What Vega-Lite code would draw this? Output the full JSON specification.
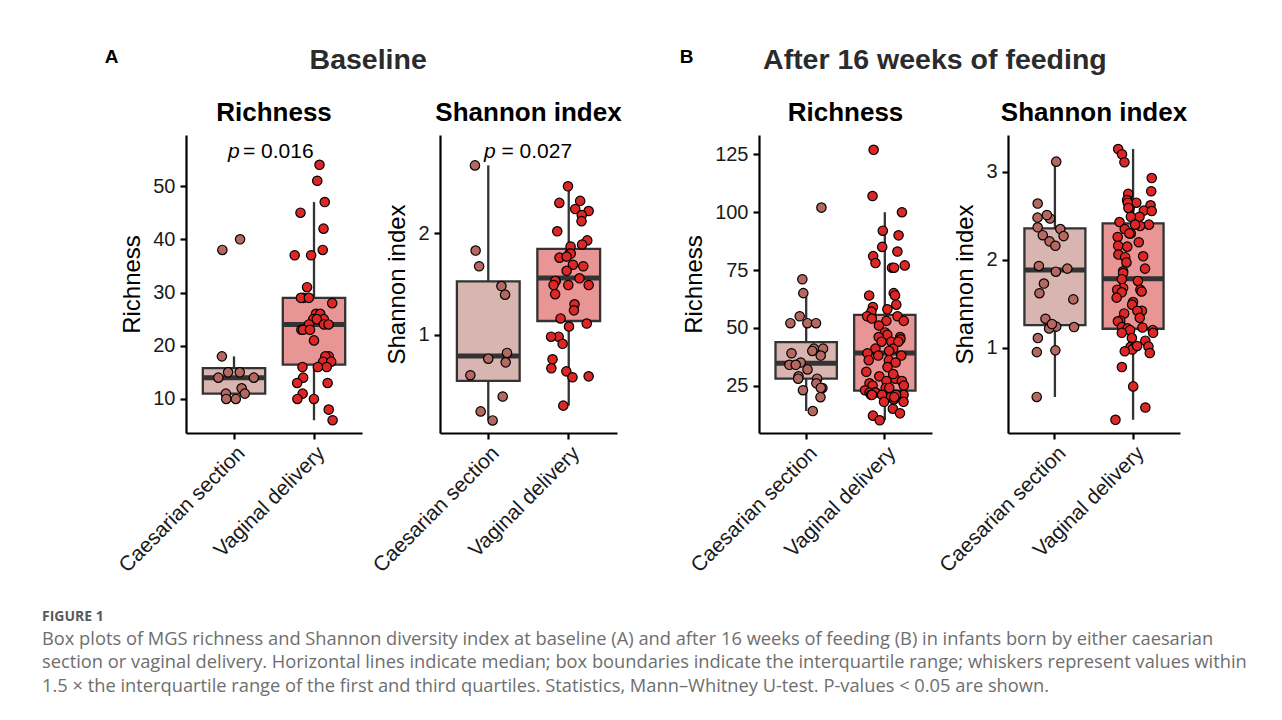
{
"$schema":"https://vega.github.io/schema/vega-lite/v6.json",
"autosize":{"type":"pad"},
"padding":{"left":42,"top":45,"right":0,"bottom":0},
"background":"white",
"spacing":57,
"title":{"text":"FIGURE 1","subtitle":["Box plots of MGS richness and Shannon diversity index at baseline (A) and after 16 weeks of feeding (B) in infants born by either caesarian","section or vaginal delivery. Horizontal lines indicate median; box boundaries indicate the interquartile range; whiskers represent values within","1.5 × the interquartile range of the first and third quartiles. Statistics, Mann–Whitney U-test. P-values < 0.05 are shown."],"orient":"bottom","anchor":"start","frame":"group","dx":-144,"offset":34,"font":"Open Sans","fontSize":14,"fontWeight":"bold","color":"#5a5a5a","subtitleFont":"Open Sans","subtitleFontSize":18.3,"subtitleColor":"#6e6e6e","subtitleLineHeight":23.5,"subtitlePadding":7},
"config":{"font":"Liberation Sans","view":{"stroke":null},
 "axis":{"domainColor":"#000000","domainWidth":2.2,"tickColor":"#000000","tickWidth":2.2,"tickSize":6,"labelFontSize":20,"labelColor":"#1a1a1a","labelFont":"Liberation Sans","titleFont":"Liberation Sans","titleFontSize":24,"titleFontWeight":"normal","titleColor":"#000000","grid":false,"labelPadding":5,"titlePadding":8},
 "axisY":{"format":"d"},
 "axisX":{"labelAngle":-45,"labelAlign":"right","labelBaseline":"top","labelPadding":3,"labelOverlap":false,"labelFontSize":21}},
"datasets":{
"stats":[
{"p":"A1","g":"Caesarian section","lo":10,"q1":11,"med":14,"q3":15.8,"hi":18},
{"p":"A1","g":"Vaginal delivery","lo":6,"q1":16.45,"med":24,"q3":29,"hi":47},
{"p":"A2","g":"Caesarian section","lo":0.154,"q1":0.545,"med":0.79,"q3":1.526,"hi":2.67},
{"p":"A2","g":"Vaginal delivery","lo":0.3,"q1":1.135,"med":1.56,"q3":1.846,"hi":2.464},
{"p":"B1","g":"Caesarian section","lo":14,"q1":28,"med":34.7,"q3":43.8,"hi":65},
{"p":"B1","g":"Vaginal delivery","lo":10,"q1":22.8,"med":39.1,"q3":55.6,"hi":100},
{"p":"B2","g":"Caesarian section","lo":0.44,"q1":1.258,"med":1.884,"q3":2.358,"hi":3.117},
{"p":"B2","g":"Vaginal delivery","lo":0.18,"q1":1.216,"med":1.785,"q3":2.415,"hi":3.26}],
"pv":[{"p":"A1","label":"= 0.016","y":55.3},{"p":"A2","label":"= 0.027","y":2.74}],
"pts":[
{"p":"A1","g":"Caesarian section","v":40},{"p":"A1","g":"Caesarian section","v":38},{"p":"A1","g":"Caesarian section","v":18},{"p":"A1","g":"Caesarian section","v":15},{"p":"A1","g":"Caesarian section","v":15},{"p":"A1","g":"Caesarian section","v":14},{"p":"A1","g":"Caesarian section","v":14},{"p":"A1","g":"Caesarian section","v":12},{"p":"A1","g":"Caesarian section","v":11},{"p":"A1","g":"Caesarian section","v":11},{"p":"A1","g":"Caesarian section","v":10},{"p":"A1","g":"Caesarian section","v":10},
{"p":"A1","g":"Vaginal delivery","v":54},{"p":"A1","g":"Vaginal delivery","v":51},{"p":"A1","g":"Vaginal delivery","v":47},{"p":"A1","g":"Vaginal delivery","v":45},{"p":"A1","g":"Vaginal delivery","v":42},{"p":"A1","g":"Vaginal delivery","v":38},{"p":"A1","g":"Vaginal delivery","v":37},{"p":"A1","g":"Vaginal delivery","v":37},{"p":"A1","g":"Vaginal delivery","v":31},{"p":"A1","g":"Vaginal delivery","v":29},{"p":"A1","g":"Vaginal delivery","v":29},{"p":"A1","g":"Vaginal delivery","v":29},{"p":"A1","g":"Vaginal delivery","v":28},{"p":"A1","g":"Vaginal delivery","v":26},{"p":"A1","g":"Vaginal delivery","v":26},{"p":"A1","g":"Vaginal delivery","v":25},{"p":"A1","g":"Vaginal delivery","v":25},{"p":"A1","g":"Vaginal delivery","v":25},{"p":"A1","g":"Vaginal delivery","v":24},{"p":"A1","g":"Vaginal delivery","v":24},{"p":"A1","g":"Vaginal delivery","v":24},{"p":"A1","g":"Vaginal delivery","v":23},{"p":"A1","g":"Vaginal delivery","v":23},{"p":"A1","g":"Vaginal delivery","v":23},{"p":"A1","g":"Vaginal delivery","v":21},{"p":"A1","g":"Vaginal delivery","v":18},{"p":"A1","g":"Vaginal delivery","v":18},{"p":"A1","g":"Vaginal delivery","v":17},{"p":"A1","g":"Vaginal delivery","v":17},{"p":"A1","g":"Vaginal delivery","v":16},{"p":"A1","g":"Vaginal delivery","v":16},{"p":"A1","g":"Vaginal delivery","v":16},{"p":"A1","g":"Vaginal delivery","v":14},{"p":"A1","g":"Vaginal delivery","v":13},{"p":"A1","g":"Vaginal delivery","v":13},{"p":"A1","g":"Vaginal delivery","v":11},{"p":"A1","g":"Vaginal delivery","v":10},{"p":"A1","g":"Vaginal delivery","v":10},{"p":"A1","g":"Vaginal delivery","v":8},{"p":"A1","g":"Vaginal delivery","v":6},
{"p":"A2","g":"Caesarian section","v":2.67},{"p":"A2","g":"Caesarian section","v":1.83},{"p":"A2","g":"Caesarian section","v":1.675},{"p":"A2","g":"Caesarian section","v":1.48},{"p":"A2","g":"Caesarian section","v":1.395},{"p":"A2","g":"Caesarian section","v":0.82},{"p":"A2","g":"Caesarian section","v":0.727},{"p":"A2","g":"Caesarian section","v":0.763},{"p":"A2","g":"Caesarian section","v":0.6},{"p":"A2","g":"Caesarian section","v":0.39},{"p":"A2","g":"Caesarian section","v":0.243},{"p":"A2","g":"Caesarian section","v":0.154},
{"p":"A2","g":"Vaginal delivery","v":2.464},{"p":"A2","g":"Vaginal delivery","v":2.32},{"p":"A2","g":"Vaginal delivery","v":2.3},{"p":"A2","g":"Vaginal delivery","v":2.24},{"p":"A2","g":"Vaginal delivery","v":2.22},{"p":"A2","g":"Vaginal delivery","v":2.18},{"p":"A2","g":"Vaginal delivery","v":2.12},{"p":"A2","g":"Vaginal delivery","v":2.02},{"p":"A2","g":"Vaginal delivery","v":1.93},{"p":"A2","g":"Vaginal delivery","v":1.89},{"p":"A2","g":"Vaginal delivery","v":1.87},{"p":"A2","g":"Vaginal delivery","v":1.8},{"p":"A2","g":"Vaginal delivery","v":1.76},{"p":"A2","g":"Vaginal delivery","v":1.8},{"p":"A2","g":"Vaginal delivery","v":1.77},{"p":"A2","g":"Vaginal delivery","v":1.69},{"p":"A2","g":"Vaginal delivery","v":1.675},{"p":"A2","g":"Vaginal delivery","v":1.63},{"p":"A2","g":"Vaginal delivery","v":1.556},{"p":"A2","g":"Vaginal delivery","v":1.53},{"p":"A2","g":"Vaginal delivery","v":1.53},{"p":"A2","g":"Vaginal delivery","v":1.49},{"p":"A2","g":"Vaginal delivery","v":1.49},{"p":"A2","g":"Vaginal delivery","v":1.49},{"p":"A2","g":"Vaginal delivery","v":1.4},{"p":"A2","g":"Vaginal delivery","v":1.3},{"p":"A2","g":"Vaginal delivery","v":1.24},{"p":"A2","g":"Vaginal delivery","v":1.16},{"p":"A2","g":"Vaginal delivery","v":1.11},{"p":"A2","g":"Vaginal delivery","v":1.08},{"p":"A2","g":"Vaginal delivery","v":0.98},{"p":"A2","g":"Vaginal delivery","v":0.98},{"p":"A2","g":"Vaginal delivery","v":0.91},{"p":"A2","g":"Vaginal delivery","v":0.757},{"p":"A2","g":"Vaginal delivery","v":0.668},{"p":"A2","g":"Vaginal delivery","v":0.638},{"p":"A2","g":"Vaginal delivery","v":0.589},{"p":"A2","g":"Vaginal delivery","v":0.58},{"p":"A2","g":"Vaginal delivery","v":0.3},
{"p":"B1","g":"Caesarian section","v":102},{"p":"B1","g":"Caesarian section","v":71},{"p":"B1","g":"Caesarian section","v":65},{"p":"B1","g":"Caesarian section","v":52},{"p":"B1","g":"Caesarian section","v":52},{"p":"B1","g":"Caesarian section","v":52},{"p":"B1","g":"Caesarian section","v":55},{"p":"B1","g":"Caesarian section","v":41},{"p":"B1","g":"Caesarian section","v":41},{"p":"B1","g":"Caesarian section","v":39},{"p":"B1","g":"Caesarian section","v":40},{"p":"B1","g":"Caesarian section","v":38},{"p":"B1","g":"Caesarian section","v":35},{"p":"B1","g":"Caesarian section","v":34},{"p":"B1","g":"Caesarian section","v":34},{"p":"B1","g":"Caesarian section","v":32},{"p":"B1","g":"Caesarian section","v":29},{"p":"B1","g":"Caesarian section","v":28},{"p":"B1","g":"Caesarian section","v":28},{"p":"B1","g":"Caesarian section","v":26},{"p":"B1","g":"Caesarian section","v":23},{"p":"B1","g":"Caesarian section","v":24},{"p":"B1","g":"Caesarian section","v":24},{"p":"B1","g":"Caesarian section","v":20},{"p":"B1","g":"Caesarian section","v":14},
{"p":"B1","g":"Vaginal delivery","v":127},{"p":"B1","g":"Vaginal delivery","v":107},{"p":"B1","g":"Vaginal delivery","v":100},{"p":"B1","g":"Vaginal delivery","v":92},{"p":"B1","g":"Vaginal delivery","v":90},{"p":"B1","g":"Vaginal delivery","v":85},{"p":"B1","g":"Vaginal delivery","v":83},{"p":"B1","g":"Vaginal delivery","v":81},{"p":"B1","g":"Vaginal delivery","v":78},{"p":"B1","g":"Vaginal delivery","v":77},{"p":"B1","g":"Vaginal delivery","v":76},{"p":"B1","g":"Vaginal delivery","v":76},{"p":"B1","g":"Vaginal delivery","v":65},{"p":"B1","g":"Vaginal delivery","v":64},{"p":"B1","g":"Vaginal delivery","v":64},{"p":"B1","g":"Vaginal delivery","v":60},{"p":"B1","g":"Vaginal delivery","v":59},{"p":"B1","g":"Vaginal delivery","v":57},{"p":"B1","g":"Vaginal delivery","v":58},{"p":"B1","g":"Vaginal delivery","v":55},{"p":"B1","g":"Vaginal delivery","v":55},{"p":"B1","g":"Vaginal delivery","v":54},{"p":"B1","g":"Vaginal delivery","v":53},{"p":"B1","g":"Vaginal delivery","v":53},{"p":"B1","g":"Vaginal delivery","v":51},{"p":"B1","g":"Vaginal delivery","v":48},{"p":"B1","g":"Vaginal delivery","v":47},{"p":"B1","g":"Vaginal delivery","v":46},{"p":"B1","g":"Vaginal delivery","v":46},{"p":"B1","g":"Vaginal delivery","v":45},{"p":"B1","g":"Vaginal delivery","v":44},{"p":"B1","g":"Vaginal delivery","v":44},{"p":"B1","g":"Vaginal delivery","v":44},{"p":"B1","g":"Vaginal delivery","v":41},{"p":"B1","g":"Vaginal delivery","v":41},{"p":"B1","g":"Vaginal delivery","v":40},{"p":"B1","g":"Vaginal delivery","v":39},{"p":"B1","g":"Vaginal delivery","v":38},{"p":"B1","g":"Vaginal delivery","v":38},{"p":"B1","g":"Vaginal delivery","v":36},{"p":"B1","g":"Vaginal delivery","v":35},{"p":"B1","g":"Vaginal delivery","v":36},{"p":"B1","g":"Vaginal delivery","v":33},{"p":"B1","g":"Vaginal delivery","v":31},{"p":"B1","g":"Vaginal delivery","v":28},{"p":"B1","g":"Vaginal delivery","v":29},{"p":"B1","g":"Vaginal delivery","v":27},{"p":"B1","g":"Vaginal delivery","v":27},{"p":"B1","g":"Vaginal delivery","v":26},{"p":"B1","g":"Vaginal delivery","v":25},{"p":"B1","g":"Vaginal delivery","v":25},{"p":"B1","g":"Vaginal delivery","v":24},{"p":"B1","g":"Vaginal delivery","v":23},{"p":"B1","g":"Vaginal delivery","v":22},{"p":"B1","g":"Vaginal delivery","v":22},{"p":"B1","g":"Vaginal delivery","v":22},{"p":"B1","g":"Vaginal delivery","v":21},{"p":"B1","g":"Vaginal delivery","v":21},{"p":"B1","g":"Vaginal delivery","v":21},{"p":"B1","g":"Vaginal delivery","v":21},{"p":"B1","g":"Vaginal delivery","v":20},{"p":"B1","g":"Vaginal delivery","v":21},{"p":"B1","g":"Vaginal delivery","v":19},{"p":"B1","g":"Vaginal delivery","v":18},{"p":"B1","g":"Vaginal delivery","v":18},{"p":"B1","g":"Vaginal delivery","v":15},{"p":"B1","g":"Vaginal delivery","v":13},{"p":"B1","g":"Vaginal delivery","v":12},{"p":"B1","g":"Vaginal delivery","v":10},{"p":"B1","g":"Vaginal delivery","v":24},{"p":"B1","g":"Vaginal delivery","v":30},{"p":"B1","g":"Vaginal delivery","v":20},
{"p":"B2","g":"Caesarian section","v":3.117},{"p":"B2","g":"Caesarian section","v":2.64},{"p":"B2","g":"Caesarian section","v":2.47},{"p":"B2","g":"Caesarian section","v":2.51},{"p":"B2","g":"Caesarian section","v":2.48},{"p":"B2","g":"Caesarian section","v":2.37},{"p":"B2","g":"Caesarian section","v":2.35},{"p":"B2","g":"Caesarian section","v":2.27},{"p":"B2","g":"Caesarian section","v":2.28},{"p":"B2","g":"Caesarian section","v":2.21},{"p":"B2","g":"Caesarian section","v":2.16},{"p":"B2","g":"Caesarian section","v":1.93},{"p":"B2","g":"Caesarian section","v":1.9},{"p":"B2","g":"Caesarian section","v":1.865},{"p":"B2","g":"Caesarian section","v":1.73},{"p":"B2","g":"Caesarian section","v":1.62},{"p":"B2","g":"Caesarian section","v":1.55},{"p":"B2","g":"Caesarian section","v":1.33},{"p":"B2","g":"Caesarian section","v":1.24},{"p":"B2","g":"Caesarian section","v":1.22},{"p":"B2","g":"Caesarian section","v":1.27},{"p":"B2","g":"Caesarian section","v":1.235},{"p":"B2","g":"Caesarian section","v":1.11},{"p":"B2","g":"Caesarian section","v":0.97},{"p":"B2","g":"Caesarian section","v":0.95},{"p":"B2","g":"Caesarian section","v":0.44},
{"p":"B2","g":"Vaginal delivery","v":3.26},{"p":"B2","g":"Vaginal delivery","v":3.2},{"p":"B2","g":"Vaginal delivery","v":3.11},{"p":"B2","g":"Vaginal delivery","v":2.93},{"p":"B2","g":"Vaginal delivery","v":2.78},{"p":"B2","g":"Vaginal delivery","v":2.75},{"p":"B2","g":"Vaginal delivery","v":2.68},{"p":"B2","g":"Vaginal delivery","v":2.65},{"p":"B2","g":"Vaginal delivery","v":2.65},{"p":"B2","g":"Vaginal delivery","v":2.62},{"p":"B2","g":"Vaginal delivery","v":2.58},{"p":"B2","g":"Vaginal delivery","v":2.56},{"p":"B2","g":"Vaginal delivery","v":2.555},{"p":"B2","g":"Vaginal delivery","v":2.59},{"p":"B2","g":"Vaginal delivery","v":2.49},{"p":"B2","g":"Vaginal delivery","v":2.49},{"p":"B2","g":"Vaginal delivery","v":2.43},{"p":"B2","g":"Vaginal delivery","v":2.4},{"p":"B2","g":"Vaginal delivery","v":2.385},{"p":"B2","g":"Vaginal delivery","v":2.4},{"p":"B2","g":"Vaginal delivery","v":2.35},{"p":"B2","g":"Vaginal delivery","v":2.3},{"p":"B2","g":"Vaginal delivery","v":2.3},{"p":"B2","g":"Vaginal delivery","v":2.2},{"p":"B2","g":"Vaginal delivery","v":2.26},{"p":"B2","g":"Vaginal delivery","v":2.16},{"p":"B2","g":"Vaginal delivery","v":2.15},{"p":"B2","g":"Vaginal delivery","v":2.06},{"p":"B2","g":"Vaginal delivery","v":2.04},{"p":"B2","g":"Vaginal delivery","v":2.03},{"p":"B2","g":"Vaginal delivery","v":1.97},{"p":"B2","g":"Vaginal delivery","v":1.87},{"p":"B2","g":"Vaginal delivery","v":1.9},{"p":"B2","g":"Vaginal delivery","v":1.85},{"p":"B2","g":"Vaginal delivery","v":1.78},{"p":"B2","g":"Vaginal delivery","v":1.76},{"p":"B2","g":"Vaginal delivery","v":1.68},{"p":"B2","g":"Vaginal delivery","v":1.66},{"p":"B2","g":"Vaginal delivery","v":1.66},{"p":"B2","g":"Vaginal delivery","v":1.63},{"p":"B2","g":"Vaginal delivery","v":1.64},{"p":"B2","g":"Vaginal delivery","v":1.57},{"p":"B2","g":"Vaginal delivery","v":1.52},{"p":"B2","g":"Vaginal delivery","v":1.49},{"p":"B2","g":"Vaginal delivery","v":1.42},{"p":"B2","g":"Vaginal delivery","v":1.42},{"p":"B2","g":"Vaginal delivery","v":1.39},{"p":"B2","g":"Vaginal delivery","v":1.34},{"p":"B2","g":"Vaginal delivery","v":1.31},{"p":"B2","g":"Vaginal delivery","v":1.3},{"p":"B2","g":"Vaginal delivery","v":1.235},{"p":"B2","g":"Vaginal delivery","v":1.22},{"p":"B2","g":"Vaginal delivery","v":1.23},{"p":"B2","g":"Vaginal delivery","v":1.2},{"p":"B2","g":"Vaginal delivery","v":1.2},{"p":"B2","g":"Vaginal delivery","v":1.17},{"p":"B2","g":"Vaginal delivery","v":1.17},{"p":"B2","g":"Vaginal delivery","v":1.11},{"p":"B2","g":"Vaginal delivery","v":1.08},{"p":"B2","g":"Vaginal delivery","v":1.01},{"p":"B2","g":"Vaginal delivery","v":1.01},{"p":"B2","g":"Vaginal delivery","v":1.015},{"p":"B2","g":"Vaginal delivery","v":0.98},{"p":"B2","g":"Vaginal delivery","v":1.02},{"p":"B2","g":"Vaginal delivery","v":0.96},{"p":"B2","g":"Vaginal delivery","v":0.94},{"p":"B2","g":"Vaginal delivery","v":0.78},{"p":"B2","g":"Vaginal delivery","v":0.56},{"p":"B2","g":"Vaginal delivery","v":0.32},{"p":"B2","g":"Vaginal delivery","v":0.18}]
},
"hconcat":[
{"title":{"text":"A","anchor":"start","frame":"bounds","fontSize":19,"fontWeight":"bold","color":"#000000","baseline":"alphabetic","offset":0,"dy":36,"dx":-10},
 "hconcat":[
 {"title":{"text":"Baseline","anchor":"middle","frame":"bounds","fontSize":28.5,"fontWeight":"bold","color":"#2b2b2b","baseline":"alphabetic","offset":3},
  "bounds":"flush","spacing":78,
  "hconcat":[
  {"width":176,"height":298,
   "title":{"text":"Richness","fontSize":26,"fontWeight":"bold","color":"#000000","baseline":"alphabetic","offset":-12,"anchor":"middle","frame":"group"},
   "resolve":{"scale":{"fill":"independent","xOffset":"independent"}},
   "layer":[
    {"data":{"name":"stats"},"transform":[{"filter":"datum.p==='A1'"}],"mark":{"type":"rule","color":"#333333","strokeWidth":2.3},
     "encoding":{"x":{"field":"g","type":"nominal","title":null,"scale":{"domain":["Caesarian section","Vaginal delivery"],"paddingInner":0.22,"paddingOuter":0.21}},
      "y":{"field":"lo","type":"quantitative","title":"Richness","scale":{"domain":[3.6,59.6],"nice":false,"zero":false},"axis":{"values":[10,20,30,40,50]}},"y2":{"field":"hi"}}},
    {"data":{"name":"stats"},"transform":[{"filter":"datum.p==='A1'"}],"mark":{"type":"bar","stroke":"#333333","strokeWidth":2.3},
     "encoding":{"x":{"field":"g","type":"nominal"},"y":{"field":"q1","type":"quantitative","scale":{"domain":[3.6,59.6],"nice":false,"zero":false}},"y2":{"field":"q3"},
      "fill":{"field":"g","type":"nominal","scale":{"domain":["Caesarian section","Vaginal delivery"],"range":["#d8b5b1","#e89595"]},"legend":null}}},
    {"data":{"name":"stats"},"transform":[{"filter":"datum.p==='A1'"}],"mark":{"type":"bar","stroke":"#333333","fill":"#333333","strokeWidth":5},
     "encoding":{"x":{"field":"g","type":"nominal"},"y":{"field":"med","type":"quantitative","scale":{"domain":[3.6,59.6],"nice":false,"zero":false}},"y2":{"field":"med"}}},
    {"data":{"name":"pts"},"transform":[{"filter":"datum.p==='A1'"},{"window":[{"op":"row_number","as":"i"}]},{"calculate":"((abs(sin(datum.i*12.9898+4.1))*43758.5453)%1)*2-1","as":"jit"}],
     "mark":{"type":"circle","size":88,"opacity":1,"stroke":"#000000","strokeWidth":1.2},
     "encoding":{"x":{"field":"g","type":"nominal"},"xOffset":{"field":"jit","type":"quantitative","scale":{"domain":[-1,1],"range":[11.2,51.2]}},
      "y":{"field":"v","type":"quantitative","scale":{"domain":[3.6,59.6],"nice":false,"zero":false}},
      "fill":{"field":"g","type":"nominal","scale":{"domain":["Caesarian section","Vaginal delivery"],"range":["#b5685f","#dd2626"]},"legend":null}}},
    {"data":{"name":"pv"},"transform":[{"filter":"datum.p==='A1'"}],"mark":{"type":"text","text":"p","fontStyle":"italic","fontSize":21,"align":"left","baseline":"alphabetic","dx":-46,"color":"#000000"},
     "encoding":{"y":{"field":"y","type":"quantitative","scale":{"domain":[3.6,59.6],"nice":false,"zero":false}}}},
    {"data":{"name":"pv"},"transform":[{"filter":"datum.p==='A1'"}],"mark":{"type":"text","fontSize":21,"align":"left","baseline":"alphabetic","dx":-31,"color":"#000000"},
     "encoding":{"text":{"field":"label"},"y":{"field":"y","type":"quantitative","scale":{"domain":[3.6,59.6],"nice":false,"zero":false}}}}
   ]},
  {"width":177,"height":298,
   "title":{"text":"Shannon index","fontSize":26,"fontWeight":"bold","color":"#000000","baseline":"alphabetic","offset":-12,"anchor":"middle","frame":"group"},
   "resolve":{"scale":{"fill":"independent","xOffset":"independent"}},
   "layer":[
    {"data":{"name":"stats"},"transform":[{"filter":"datum.p==='A2'"}],"mark":{"type":"rule","color":"#333333","strokeWidth":2.3},
     "encoding":{"x":{"field":"g","type":"nominal","title":null,"scale":{"domain":["Caesarian section","Vaginal delivery"],"paddingInner":0.22,"paddingOuter":0.21}},
      "y":{"field":"lo","type":"quantitative","title":"Shannon index","scale":{"domain":[0.03,2.97],"nice":false,"zero":false},"axis":{"values":[1,2]}},"y2":{"field":"hi"}}},
    {"data":{"name":"stats"},"transform":[{"filter":"datum.p==='A2'"}],"mark":{"type":"bar","stroke":"#333333","strokeWidth":2.3},
     "encoding":{"x":{"field":"g","type":"nominal"},"y":{"field":"q1","type":"quantitative","scale":{"domain":[0.03,2.97],"nice":false,"zero":false}},"y2":{"field":"q3"},
      "fill":{"field":"g","type":"nominal","scale":{"domain":["Caesarian section","Vaginal delivery"],"range":["#d8b5b1","#e89595"]},"legend":null}}},
    {"data":{"name":"stats"},"transform":[{"filter":"datum.p==='A2'"}],"mark":{"type":"bar","stroke":"#333333","fill":"#333333","strokeWidth":5},
     "encoding":{"x":{"field":"g","type":"nominal"},"y":{"field":"med","type":"quantitative","scale":{"domain":[0.03,2.97],"nice":false,"zero":false}},"y2":{"field":"med"}}},
    {"data":{"name":"pts"},"transform":[{"filter":"datum.p==='A2'"},{"window":[{"op":"row_number","as":"i"}]},{"calculate":"((abs(sin(datum.i*12.9898+7.3))*43758.5453)%1)*2-1","as":"jit"}],
     "mark":{"type":"circle","size":88,"opacity":1,"stroke":"#000000","strokeWidth":1.2},
     "encoding":{"x":{"field":"g","type":"nominal"},"xOffset":{"field":"jit","type":"quantitative","scale":{"domain":[-1,1],"range":[11.4,51.4]}},
      "y":{"field":"v","type":"quantitative","scale":{"domain":[0.03,2.97],"nice":false,"zero":false}},
      "fill":{"field":"g","type":"nominal","scale":{"domain":["Caesarian section","Vaginal delivery"],"range":["#b5685f","#dd2626"]},"legend":null}}},
    {"data":{"name":"pv"},"transform":[{"filter":"datum.p==='A2'"}],"mark":{"type":"text","text":"p","fontStyle":"italic","fontSize":21,"align":"left","baseline":"alphabetic","dx":-44.5,"color":"#000000"},
     "encoding":{"y":{"field":"y","type":"quantitative","scale":{"domain":[0.03,2.97],"nice":false,"zero":false}}}},
    {"data":{"name":"pv"},"transform":[{"filter":"datum.p==='A2'"}],"mark":{"type":"text","fontSize":21,"align":"left","baseline":"alphabetic","dx":-27,"color":"#000000"},
     "encoding":{"text":{"field":"label"},"y":{"field":"y","type":"quantitative","scale":{"domain":[0.03,2.97],"nice":false,"zero":false}}}}
   ]}
  ]}
 ]},
{"title":{"text":"B","anchor":"start","frame":"bounds","fontSize":19,"fontWeight":"bold","color":"#000000","baseline":"alphabetic","offset":0,"dy":36,"dx":-3},
 "hconcat":[
 {"title":{"text":"After 16 weeks of feeding","anchor":"middle","frame":"bounds","fontSize":28.5,"fontWeight":"bold","color":"#2b2b2b","baseline":"alphabetic","offset":3},
  "bounds":"flush","spacing":76,
  "hconcat":[
  {"width":173,"height":298,
   "title":{"text":"Richness","fontSize":26,"fontWeight":"bold","color":"#000000","baseline":"alphabetic","offset":-12,"anchor":"middle","frame":"group"},
   "resolve":{"scale":{"fill":"independent","xOffset":"independent"}},
   "layer":[
    {"data":{"name":"stats"},"transform":[{"filter":"datum.p==='B1'"}],"mark":{"type":"rule","color":"#333333","strokeWidth":2.3},
     "encoding":{"x":{"field":"g","type":"nominal","title":null,"scale":{"domain":["Caesarian section","Vaginal delivery"],"paddingInner":0.22,"paddingOuter":0.21}},
      "y":{"field":"lo","type":"quantitative","title":"Richness","scale":{"domain":[4.5,133.4],"nice":false,"zero":false},"axis":{"values":[25,50,75,100,125]}},"y2":{"field":"hi"}}},
    {"data":{"name":"stats"},"transform":[{"filter":"datum.p==='B1'"}],"mark":{"type":"bar","stroke":"#333333","strokeWidth":2.3},
     "encoding":{"x":{"field":"g","type":"nominal"},"y":{"field":"q1","type":"quantitative","scale":{"domain":[4.5,133.4],"nice":false,"zero":false}},"y2":{"field":"q3"},
      "fill":{"field":"g","type":"nominal","scale":{"domain":["Caesarian section","Vaginal delivery"],"range":["#d8b5b1","#e89595"]},"legend":null}}},
    {"data":{"name":"stats"},"transform":[{"filter":"datum.p==='B1'"}],"mark":{"type":"bar","stroke":"#333333","fill":"#333333","strokeWidth":5},
     "encoding":{"x":{"field":"g","type":"nominal"},"y":{"field":"med","type":"quantitative","scale":{"domain":[4.5,133.4],"nice":false,"zero":false}},"y2":{"field":"med"}}},
    {"data":{"name":"pts"},"transform":[{"filter":"datum.p==='B1'"},{"window":[{"op":"row_number","as":"i"}]},{"calculate":"((abs(sin(datum.i*12.9898+1.7))*43758.5453)%1)*2-1","as":"jit"}],
     "mark":{"type":"circle","size":88,"opacity":1,"stroke":"#000000","strokeWidth":1.2},
     "encoding":{"x":{"field":"g","type":"nominal"},"xOffset":{"field":"jit","type":"quantitative","scale":{"domain":[-1,1],"range":[10.7,50.7]}},
      "y":{"field":"v","type":"quantitative","scale":{"domain":[4.5,133.4],"nice":false,"zero":false}},
      "fill":{"field":"g","type":"nominal","scale":{"domain":["Caesarian section","Vaginal delivery"],"range":["#b5685f","#dd2626"]},"legend":null}}}
   ]},
  {"width":172,"height":298,
   "title":{"text":"Shannon index","fontSize":26,"fontWeight":"bold","color":"#000000","baseline":"alphabetic","offset":-12,"anchor":"middle","frame":"group"},
   "resolve":{"scale":{"fill":"independent","xOffset":"independent"}},
   "layer":[
    {"data":{"name":"stats"},"transform":[{"filter":"datum.p==='B2'"}],"mark":{"type":"rule","color":"#333333","strokeWidth":2.3},
     "encoding":{"x":{"field":"g","type":"nominal","title":null,"scale":{"domain":["Caesarian section","Vaginal delivery"],"paddingInner":0.22,"paddingOuter":0.21}},
      "y":{"field":"lo","type":"quantitative","title":"Shannon index","scale":{"domain":[0.03,3.42],"nice":false,"zero":false},"axis":{"values":[1,2,3]}},"y2":{"field":"hi"}}},
    {"data":{"name":"stats"},"transform":[{"filter":"datum.p==='B2'"}],"mark":{"type":"bar","stroke":"#333333","strokeWidth":2.3},
     "encoding":{"x":{"field":"g","type":"nominal"},"y":{"field":"q1","type":"quantitative","scale":{"domain":[0.03,3.42],"nice":false,"zero":false}},"y2":{"field":"q3"},
      "fill":{"field":"g","type":"nominal","scale":{"domain":["Caesarian section","Vaginal delivery"],"range":["#d8b5b1","#e89595"]},"legend":null}}},
    {"data":{"name":"stats"},"transform":[{"filter":"datum.p==='B2'"}],"mark":{"type":"bar","stroke":"#333333","fill":"#333333","strokeWidth":5},
     "encoding":{"x":{"field":"g","type":"nominal"},"y":{"field":"med","type":"quantitative","scale":{"domain":[0.03,3.42],"nice":false,"zero":false}},"y2":{"field":"med"}}},
    {"data":{"name":"pts"},"transform":[{"filter":"datum.p==='B2'"},{"window":[{"op":"row_number","as":"i"}]},{"calculate":"((abs(sin(datum.i*12.9898+9.9))*43758.5453)%1)*2-1","as":"jit"}],
     "mark":{"type":"circle","size":88,"opacity":1,"stroke":"#000000","strokeWidth":1.2},
     "encoding":{"x":{"field":"g","type":"nominal"},"xOffset":{"field":"jit","type":"quantitative","scale":{"domain":[-1,1],"range":[10.5,50.5]}},
      "y":{"field":"v","type":"quantitative","scale":{"domain":[0.03,3.42],"nice":false,"zero":false}},
      "fill":{"field":"g","type":"nominal","scale":{"domain":["Caesarian section","Vaginal delivery"],"range":["#b5685f","#dd2626"]},"legend":null}}}
   ]}
  ]}
 ]}
]
}
